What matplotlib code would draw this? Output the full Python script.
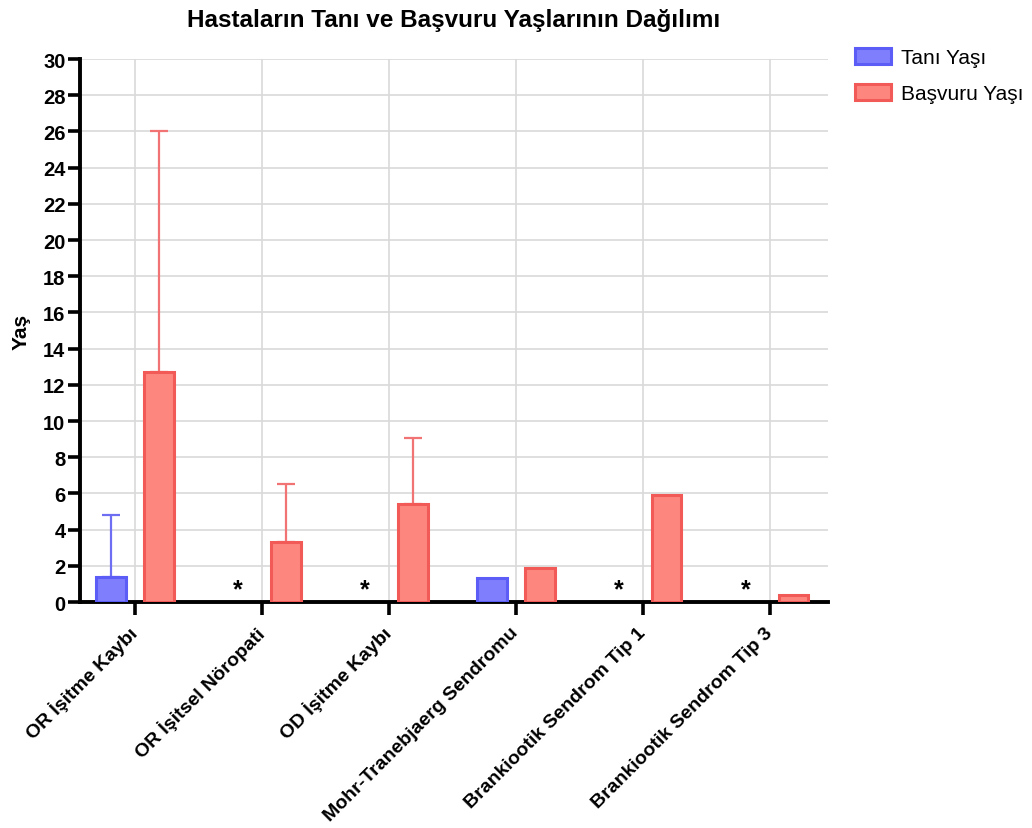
import numpy as np
import matplotlib.pyplot as plt

plt.rcParams['font.family'] = ['Liberation Sans', 'DejaVu Sans']

# Kategoriler ve ortalama yaşlar (yıl)
kategoriler = ["OR İşitme Kaybı", "OR İşitsel Nöropati", "OD İşitme Kaybı",
               "Mohr-Tranebjaerg Sendromu", "Brankiootik Sendrom Tip 1",
               "Brankiootik Sendrom Tip 3"]
tani_yasi = [1.4, np.nan, np.nan, 1.3, np.nan, np.nan]
tani_sd = [3.4, 0, 0, 0, 0, 0]
basvuru_yasi = [12.7, 3.3, 5.4, 1.9, 5.9, 0.4]
basvuru_sd = [13.35, 3.2, 3.65, 0, 0, 0]
yticks = list(range(0, 31, 2))

x = np.arange(len(kategoriler))
w = 0.235
off = 0.188

fig = plt.figure(figsize=(10.32, 8.29), dpi=100)
ax = fig.add_axes([0.0775, 0.2726, 0.7245, 0.655])

mavi_yuz, mavi_kenar = '#7f7ffd', '#5c5cf6'
kirmizi_yuz, kirmizi_kenar = '#fd877f', '#f25a58'

ax.bar(x - off, tani_yasi, w, color=mavi_yuz, edgecolor=mavi_kenar,
       linewidth=2.2, label='Tanı Yaşı', zorder=3)
ax.bar(x + off, basvuru_yasi, w, color=kirmizi_yuz, edgecolor=kirmizi_kenar,
       linewidth=2.2, label='Başvuru Yaşı', zorder=3)

# Sadece üst hata çubukları
for i in range(len(x)):
    if tani_sd[i] > 0:
        ax.errorbar(x[i] - off, tani_yasi[i], yerr=[[0], [tani_sd[i]]],
                    fmt='none', ecolor='#6e6ef2', elinewidth=1.6,
                    capsize=6.5, capthick=1.6, zorder=2)
    if basvuru_sd[i] > 0:
        ax.errorbar(x[i] + off, basvuru_yasi[i], yerr=[[0], [basvuru_sd[i]]],
                    fmt='none', ecolor='#f27373', elinewidth=1.6,
                    capsize=6.5, capthick=1.6, zorder=2)
    if np.isnan(tani_yasi[i]):
        ax.text(x[i] - off, 0.05, '*', ha='center', va='bottom',
                fontsize=18, fontweight='bold', zorder=4)

ax.set_xlim(-0.433, 5.457)
ax.set_ylim(0, 30)
ax.set_yticks(yticks)
ax.set_xticks(x)
ax.set_xticklabels(kategoriler, rotation=45, ha='right', va='center',
                   rotation_mode='anchor', fontsize=14, fontweight='bold')
for lbl in ax.get_yticklabels():
    lbl.set_fontweight('bold')
    lbl.set_fontsize(14.5)

ax.grid(True, color='#d9d9d9', linewidth=1.2, zorder=0)
ax.set_axisbelow(True)
for s in ['top', 'right']:
    ax.spines[s].set_visible(False)
for s in ['left', 'bottom']:
    ax.spines[s].set_linewidth(2.8)
ax.tick_params(axis='both', width=2.6, length=9, direction='out')
ax.tick_params(axis='y', pad=1.5)
ax.tick_params(axis='x', pad=11)

ax.set_ylabel('Yaş', fontsize=15, fontweight='bold', labelpad=9)
ax.set_title('Hastaların Tanı ve Başvuru Yaşlarının Dağılımı', fontsize=17.5,
             fontweight='bold', pad=24)

ax.legend(loc='upper left', bbox_to_anchor=(1.012, 1.055), frameon=False,
          fontsize=15, handlelength=1.7, handleheight=0.8, handletextpad=0.5,
          labelspacing=0.8)

fig.savefig('out.png', dpi=100)
